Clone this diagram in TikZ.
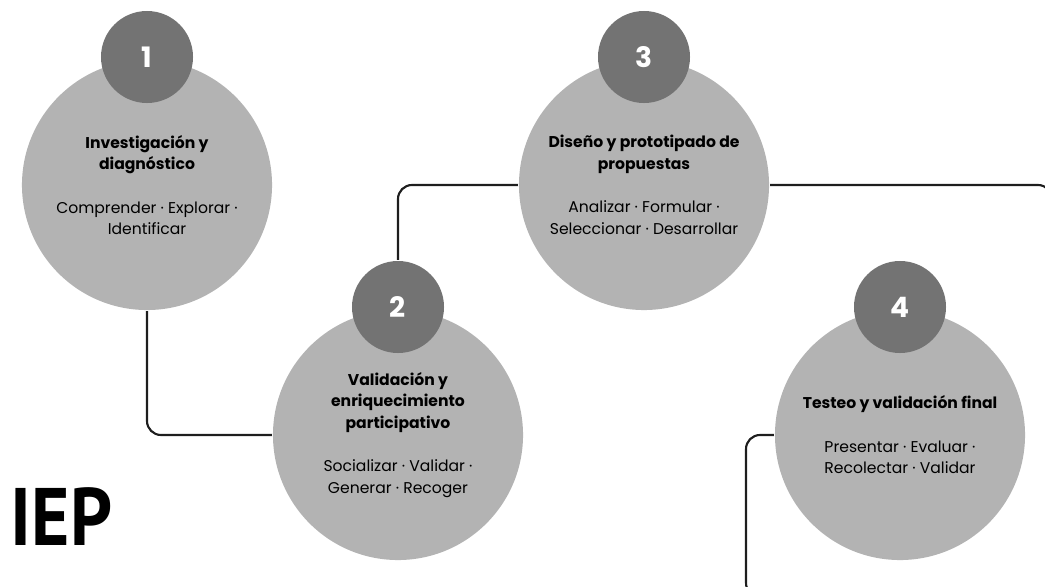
\documentclass[tikz,border=0pt]{standalone}
\usepackage{fontspec}
\setmainfont{Poppins}
\newfontfamily\iepfont{PT Sans}
\usepackage{xcolor}
\usetikzlibrary{positioning}
\usetikzlibrary{calc}
\usetikzlibrary{math}

\definecolor{stagegrey}{RGB}{179,179,179}
\definecolor{badgegrey}{RGB}{115,115,115}
\definecolor{linkblack}{RGB}{30,30,30}

\begin{document}
\begin{tikzpicture}[x=0.025cm,y=-0.025cm,line width=1.5pt,
  stage/.style={circle, fill=stagegrey, minimum size=6.25cm, inner sep=0pt},
  badge/.style={circle, fill=badgegrey, minimum size=2.3cm, inner sep=0pt,
    text=white, font=\fontsize{20}{24}\selectfont\bfseries},
  stagetext/.style={align=center, text=black,
    font=\fontsize{11.1}{15.4}\selectfont},
  link/.style={draw=linkblack, rounded corners=0.35cm}]

  \tikzmath{
    \lift = 128; % badge centre above stage centre
  }

  \useasboundingbox (0,0) rectangle (1045,586);
  \clip (0,0) rectangle (1045,586);

  % stages
  \node[stage] (c1) at (147,185) {};
  \node[stage] (c2) at (398,435) {};
  \node[stage] (c3) at (644,185) {};
  \node[stage] (c4) at (900,435) {};

  % free ends of the links
  \coordinate (e3) at (1052,300);
  \coordinate (k4) at (746,597);
  \coordinate (b4) at (820,597);

  % badges with the step number
  \node[badge] (n1) at ($(c1.center)+(0,-\lift)$) {1};
  \node[badge] (n2) at ($(c2.center)+(0,-\lift)$) {2};
  \node[badge] (n3) at ($(c3.center)+(0,-\lift)$) {3};
  \node[badge] (n4) at ($(c4.center)+(0,-\lift)$) {4};

  % links between stages
  \draw[link] (c1.south) |- (c2.west);
  \draw[link] (n2.north) |- (c3.west);
  \draw[link] (c3.east) -| (e3);
  \draw[link] (c4.west) -| (k4) -- (b4);

  % stage texts
  \node[stagetext] (t1) at (c1.center) {\textbf{Investigación y}\\\textbf{diagnóstico}\\[15.4pt]
    Comprender · Explorar ·\\Identificar};
  \node[stagetext] (t2) at (c2.center) {\textbf{Validación y}\\\textbf{enriquecimiento}\\\textbf{participativo}\\[15.4pt]
    Socializar · Validar ·\\Generar · Recoger};
  \node[stagetext] (t3) at (c3.center) {\textbf{Diseño y prototipado de}\\\textbf{propuestas}\\[15.4pt]
    Analizar · Formular ·\\Seleccionar · Desarrollar};
  \node[stagetext] (t4) at (c4.center) {\textbf{Testeo y validación final}\\[15.4pt]
    Presentar · Evaluar ·\\Recolectar · Validar};

  % label bottom left
  \node[anchor=base west, inner sep=0pt, xscale=0.9,
    font=\iepfont\fontsize{58}{60}\selectfont\bfseries] (iep) at (10,545) {IEP};

\end{tikzpicture}
\end{document}
